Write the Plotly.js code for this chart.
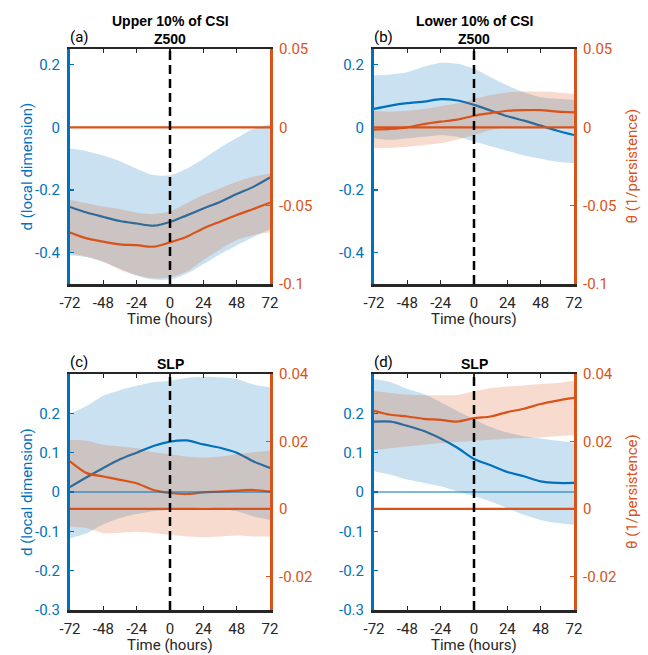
<!DOCTYPE html>
<html>
<head>
<meta charset="utf-8">
<script src="https://cdn.plot.ly/plotly-3.0.1.min.js"></script>
<style>html,body{margin:0;padding:0;background:#fff;}#chart{width:648px;height:655px;}</style>
</head>
<body>
<div id="chart"></div>
<script>
// ---------- data ----------
const times = [-72,-60,-48,-36,-24,-12,0,12,24,36,48,60,72];
const xTickVals = [-72,-48,-24,0,24,48,72];
const xTickText = ['-72','-48','-24','0','24','48','72'];

// Panel (a): Upper 10% of CSI, Z500
const dA    = [-0.254,-0.272,-0.286,-0.299,-0.307,-0.314,-0.302,-0.281,-0.259,-0.238,-0.213,-0.19,-0.16];
const dAUp  = [-0.067,-0.076,-0.09,-0.108,-0.132,-0.152,-0.153,-0.132,-0.1,-0.065,-0.034,-0.005,0.01];
const dALo  = [-0.409,-0.414,-0.43,-0.451,-0.473,-0.486,-0.485,-0.467,-0.437,-0.405,-0.377,-0.35,-0.325];
const thA   = [-0.0672,-0.0709,-0.073,-0.0747,-0.0752,-0.0762,-0.0734,-0.0698,-0.0645,-0.0602,-0.056,-0.0521,-0.0481];
const thAUp = [-0.0464,-0.0485,-0.0506,-0.0523,-0.0545,-0.0553,-0.0538,-0.0485,-0.0432,-0.039,-0.0347,-0.0315,-0.0294];
const thALo = [-0.0804,-0.0826,-0.0857,-0.091,-0.0943,-0.0964,-0.0957,-0.0921,-0.0847,-0.0779,-0.0719,-0.0687,-0.0672];

// Panel (b): Lower 10% of CSI, Z500
const dB    = [0.059,0.0695,0.077,0.082,0.0898,0.0856,0.0717,0.0535,0.0353,0.0214,0.0053,-0.0107,-0.0246];
const dBUp  = [0.166,0.169,0.176,0.193,0.206,0.203,0.187,0.16,0.134,0.112,0.096,0.091,0.088];
const dBLo  = [-0.035,-0.04,-0.035,-0.03,-0.025,-0.03,-0.045,-0.06,-0.075,-0.09,-0.1,-0.11,-0.115];
const thB   = [-0.0015,-0.001,0.0,0.0021,0.0036,0.0049,0.0074,0.0091,0.0106,0.011,0.011,0.010,0.0096];
const thBUp = [0.0106,0.010,0.0106,0.0117,0.0134,0.0153,0.018,0.0206,0.0223,0.0228,0.0228,0.0223,0.0213];
const thBLo = [-0.0134,-0.013,-0.0124,-0.0113,-0.0102,-0.0078,-0.0049,-0.0017,0.0,0.0003,0.0005,0.0003,0.0];

// Panel (c): Upper 10% of CSI, SLP
const dC    = [0.0128,0.0375,0.061,0.083,0.10,0.117,0.128,0.131,0.121,0.1125,0.10,0.078,0.061];
const dCUp  = [0.198,0.219,0.245,0.259,0.27,0.279,0.283,0.29,0.293,0.2915,0.287,0.273,0.266];
const dCLo  = [-0.118,-0.105,-0.082,-0.066,-0.056,-0.049,-0.045,-0.043,-0.039,-0.043,-0.049,-0.062,-0.071];
const thC   = [0.0141,0.0106,0.0096,0.0086,0.0076,0.0056,0.0047,0.0044,0.0049,0.0051,0.0054,0.0056,0.0051];
const thCUp = [0.0205,0.0202,0.019,0.0185,0.018,0.0168,0.0162,0.0155,0.0152,0.0155,0.0162,0.0168,0.0172];
const thCLo = [-0.0052,-0.0057,-0.0072,-0.0071,-0.0069,-0.0072,-0.0077,-0.0082,-0.0084,-0.0082,-0.0079,-0.0082,-0.0082];

// Panel (d): Lower 10% of CSI, SLP
const dD    = [0.179,0.179,0.168,0.155,0.136,0.1125,0.084,0.068,0.051,0.040,0.027,0.023,0.023];
const dDUp  = [0.287,0.279,0.262,0.249,0.228,0.206,0.185,0.165,0.151,0.142,0.136,0.13,0.125];
const dDLo  = [0.053,0.044,0.0315,0.023,0.0145,0.0017,-0.011,-0.024,-0.041,-0.058,-0.071,-0.079,-0.0835];
const thD   = [0.0291,0.0279,0.0274,0.0267,0.0264,0.0259,0.0269,0.0274,0.0287,0.0297,0.0311,0.0321,0.0329];
const thDUp = [0.0349,0.0344,0.0339,0.0337,0.0337,0.0338,0.0349,0.0358,0.0363,0.0366,0.037,0.0373,0.038];
const thDLo = [0.0175,0.018,0.0185,0.019,0.0195,0.0198,0.0202,0.0205,0.0208,0.021,0.0212,0.0215,0.0218];

// tick labels
const z500LeftTicks  = [-0.4,-0.2,0,0.2];
const z500LeftText   = ['-0.4','-0.2','0','0.2'];
const z500RightTicks = [-0.1,-0.05,0,0.05];
const z500RightText  = ['-0.1','-0.05','0','0.05'];
const slpLeftTicks   = [-0.3,-0.2,-0.1,0,0.1,0.2];
const slpLeftText    = ['-0.3','-0.2','-0.1','0','0.1','0.2'];
const slpRightTicks  = [-0.02,0,0.02,0.04];
const slpRightText   = ['-0.02','0','0.02','0.04'];

// ---------- styling ----------
const W = 648, H = 655;
const BLUE = '#0072BD', ORANGE = '#D95319', DARK = '#262626';
const BLUE_FILL = 'rgba(0,114,189,0.21)', ORANGE_FILL = 'rgba(217,83,25,0.21)';
const FONT = 'Roboto, "Liberation Sans", Arial, sans-serif';
const px = v => v / W;
const py = v => 1 - v / H;

const panels = [
  {x0:70, x1:270, y0:49, y1:284, d:dA, dU:dAUp, dL:dALo, t:thA, tU:thAUp, tL:thALo,
   lr:[-0.5,0.25], rr:[-0.1,0.05], lt:z500LeftTicks, ltt:z500LeftText, rt:z500RightTicks, rtt:z500RightText,
   top:'Upper 10% of CSI', sub:'Z500', tag:'(a)', leftTitle:true, rightTitle:false, blueZero:false},
  {x0:374, x1:574, y0:49, y1:284, d:dB, dU:dBUp, dL:dBLo, t:thB, tU:thBUp, tL:thBLo,
   lr:[-0.5,0.25], rr:[-0.1,0.05], lt:z500LeftTicks, ltt:z500LeftText, rt:z500RightTicks, rtt:z500RightText,
   top:'Lower 10% of CSI', sub:'Z500', tag:'(b)', leftTitle:false, rightTitle:true, blueZero:false},
  {x0:70, x1:270, y0:374, y1:610, d:dC, dU:dCUp, dL:dCLo, t:thC, tU:thCUp, tL:thCLo,
   lr:[-0.3,0.3], rr:[-0.03,0.04], lt:slpLeftTicks, ltt:slpLeftText, rt:slpRightTicks, rtt:slpRightText,
   top:null, sub:'SLP', tag:'(c)', leftTitle:true, rightTitle:false, blueZero:true},
  {x0:374, x1:574, y0:374, y1:610, d:dD, dU:dDUp, dL:dDLo, t:thD, tU:thDUp, tL:thDLo,
   lr:[-0.3,0.3], rr:[-0.03,0.04], lt:slpLeftTicks, ltt:slpLeftText, rt:slpRightTicks, rtt:slpRightText,
   top:null, sub:'SLP', tag:'(d)', leftTitle:false, rightTitle:true, blueZero:true}
];

const data = [];
const layout = {
  width: W, height: H, margin: {l:0, r:0, t:0, b:0},
  paper_bgcolor: '#fff', plot_bgcolor: 'rgba(0,0,0,0)',
  showlegend: false, font: {family: FONT, size: 15, color: DARK},
  shapes: [], annotations: []
};

panels.forEach((p, i) => {
  const n = i + 1;
  const xa = n === 1 ? 'x' : 'x' + n;
  const yl = 'y' + (2 * i + 1), yr = 'y' + (2 * i + 2);
  const ylName = 'yaxis' + (2 * i + 1 === 1 ? '' : (2 * i + 1));
  const yrName = 'yaxis' + (2 * i + 2);
  const ylRef = yl === 'y1' ? 'y' : yl;
  const xName = 'xaxis' + (n === 1 ? '' : n);
  const xdom = [px(p.x0), px(p.x1)];
  const ydom = [py(p.y1), py(p.y0)];

  layout[xName] = {
    domain: xdom, anchor: ylRef, range: [-72, 72],
    tickmode: 'array', tickvals: xTickVals, ticktext: xTickText,
    ticks: 'inside', ticklen: 4, tickwidth: 1.5, tickcolor: DARK,
    showline: true, linecolor: DARK, linewidth: 2.5, mirror: 'ticks',
    showgrid: false, zeroline: false, ticklabelstandoff: 3,
    tickfont: {family: FONT, size: 15, color: DARK}, fixedrange: true
  };
  layout[ylName] = {
    domain: ydom, anchor: xa, range: p.lr, side: 'left',
    tickmode: 'array', tickvals: p.lt, ticktext: p.ltt,
    ticks: 'inside', ticklen: 4, tickwidth: 1.5, tickcolor: BLUE,
    showline: true, linecolor: BLUE, linewidth: 3,
    showgrid: false, zeroline: false, ticklabelstandoff: 4,
    tickfont: {family: FONT, size: 15, color: BLUE}, fixedrange: true
  };
  layout[yrName] = {
    domain: ydom, anchor: xa, overlaying: ylRef, range: p.rr, side: 'right',
    tickmode: 'array', tickvals: p.rt, ticktext: p.rtt,
    ticks: 'inside', ticklen: 4, tickwidth: 1.5, tickcolor: ORANGE,
    showline: true, linecolor: ORANGE, linewidth: 3,
    showgrid: false, zeroline: false, ticklabelstandoff: 3,
    tickfont: {family: FONT, size: 15, color: ORANGE}, fixedrange: true
  };

  const spl = {shape: 'spline', smoothing: 0.8};
  // blue band + line (left axis)
  data.push({x: times, y: p.dL, xaxis: xa, yaxis: ylRef, mode: 'lines', line: Object.assign({width: 0, color: BLUE_FILL}, spl), hoverinfo: 'skip'});
  data.push({x: times, y: p.dU, xaxis: xa, yaxis: ylRef, mode: 'lines', fill: 'tonexty', fillcolor: BLUE_FILL, line: Object.assign({width: 0, color: BLUE_FILL}, spl), hoverinfo: 'skip'});
  data.push({x: times, y: p.d, xaxis: xa, yaxis: ylRef, mode: 'lines', line: Object.assign({width: 2.2, color: BLUE}, spl)});
  // orange band + line (right axis)
  data.push({x: times, y: p.tL, xaxis: xa, yaxis: yr, mode: 'lines', line: Object.assign({width: 0, color: ORANGE_FILL}, spl), hoverinfo: 'skip'});
  data.push({x: times, y: p.tU, xaxis: xa, yaxis: yr, mode: 'lines', fill: 'tonexty', fillcolor: ORANGE_FILL, line: Object.assign({width: 0, color: ORANGE_FILL}, spl), hoverinfo: 'skip'});
  data.push({x: times, y: p.t, xaxis: xa, yaxis: yr, mode: 'lines', line: Object.assign({width: 2.2, color: ORANGE}, spl)});

  // zero reference lines
  if (p.blueZero) {
    layout.shapes.push({type: 'line', layer: 'above', xref: xa, yref: ylRef, x0: -72, x1: 72, y0: 0, y1: 0, line: {color: BLUE, width: 1}});
  }
  layout.shapes.push({type: 'line', layer: 'above', xref: xa, yref: yr, x0: -72, x1: 72, y0: 0, y1: 0, line: {color: ORANGE, width: 2.2}});
  // event time marker
  layout.shapes.push({type: 'line', layer: 'above', xref: xa, yref: ylRef + ' domain', x0: 0, x1: 0, y0: 0, y1: 1, line: {color: '#000', width: 2.5, dash: '9px,5px'}});

  const cx = (p.x0 + p.x1) / 2;
  // titles
  if (p.top) {
    layout.annotations.push({xref: 'paper', yref: 'paper', x: px(cx), y: py(21), xanchor: 'center', yanchor: 'middle', showarrow: false,
      text: '<b>' + p.top + '</b>', font: {family: '"Liberation Sans", Arial, sans-serif', size: 14, color: '#000'}});
  }
  layout.annotations.push({xref: 'paper', yref: 'paper', x: px(cx), y: py(p.y0 - 10), xanchor: 'center', yanchor: 'middle', showarrow: false,
    text: '<b>' + p.sub + '</b>', font: {family: '"Liberation Sans", Arial, sans-serif', size: 14, color: '#000'}});
  layout.annotations.push({xref: 'paper', yref: 'paper', x: px(p.x0 - 2), y: py(p.y0 - 12), xanchor: 'left', yanchor: 'middle', showarrow: false,
    text: p.tag, font: {family: FONT, size: 15, color: '#000'}});
  // x title
  layout.annotations.push({xref: 'paper', yref: 'paper', x: px(cx), y: py(p.y1 + 35), xanchor: 'center', yanchor: 'middle', showarrow: false,
    text: 'Time (hours)', font: {family: FONT, size: 15, color: DARK}});
  if (p.leftTitle) {
    layout.annotations.push({xref: 'paper', yref: 'paper', x: px(27), y: py((p.y0 + p.y1) / 2), xanchor: 'center', yanchor: 'middle', showarrow: false,
      textangle: -90, text: 'd (local dimension)', font: {family: FONT, size: 15, color: BLUE}});
  }
  if (p.rightTitle) {
    layout.annotations.push({xref: 'paper', yref: 'paper', x: px(632), y: py((p.y0 + p.y1) / 2), xanchor: 'center', yanchor: 'middle', showarrow: false,
      textangle: -90, text: 'θ (1/persistence)', font: {family: FONT, size: 15, color: ORANGE}});
  }
});

Plotly.newPlot('chart', data, layout, {staticPlot: true, displayModeBar: false});
</script>
</body>
</html>
